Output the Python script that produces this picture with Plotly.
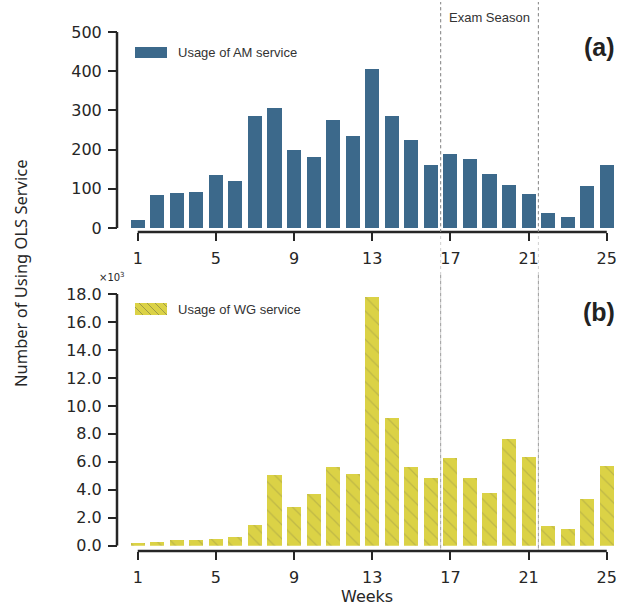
import plotly.graph_objects as go

weeks = list(range(1, 26))
am_usage = [20, 84, 89, 92, 135, 120, 286, 306, 199, 181, 276, 235, 406, 286, 225,
            161, 189, 176, 138, 110, 87, 38, 28, 107, 161]
wg_usage = [190, 270, 410, 410, 500, 620, 1480, 5070, 2780, 3710, 5640, 5140, 17770,
            9160, 5640, 4860, 6290, 4860, 3780, 7650, 6360, 1410, 1190, 3350, 5720]
x_ticks = [1, 5, 9, 13, 17, 21, 25]
am_ticks = [0, 100, 200, 300, 400, 500]
wg_ticks = [0, 2000, 4000, 6000, 8000, 10000, 12000, 14000, 16000, 18000]
wg_tick_text = ["0.0", "2.0", "4.0", "6.0", "8.0", "10.0", "12.0", "14.0", "16.0", "18.0"]
exam_season = [16.5, 21.5]

W, H = 617, 606
def px(x): return x / W
def py(y): return 1 - y / H

BLUE = "#3c698b"
YELLOW = "#dbd246"
TXT = "#262626"
TICKFONT = dict(family="DejaVu Sans", size=16, color=TXT)
LABFONT = "Liberation Sans, Arial, sans-serif"

fig = go.Figure()
fig.add_trace(go.Bar(x=weeks, y=am_usage, width=0.72, marker=dict(color=BLUE, line=dict(width=0)),
                     name="Usage of AM service", xaxis="x", yaxis="y", showlegend=False))
fig.add_trace(go.Bar(x=weeks, y=wg_usage, width=0.72,
                     marker=dict(color=YELLOW, line=dict(width=0),
                                 pattern=dict(shape="\\", fgcolor="rgba(110,110,70,0.55)", size=10, solidity=0.12)),
                     name="Usage of WG service", xaxis="x2", yaxis="y2", showlegend=False))

xr = [-0.06, 25.42]
xdom = [px(117), px(615)]
common_x = dict(range=xr, domain=xdom, tickvals=x_ticks, ticks="outside", ticklen=8, tickwidth=2,
                tickcolor=TXT, showline=False, showgrid=False, zeroline=False, tickfont=TICKFONT,
                anchor="free", ticklabelstandoff=4, automargin=False)
common_y = dict(ticks="outside", ticklen=9, tickwidth=2, tickcolor=TXT, showline=False, showgrid=False,
                zeroline=False, tickfont=TICKFONT, anchor="free", position=px(117), automargin=False,
                ticklabelstandoff=3)
fig.update_layout(
    width=W, height=H, margin=dict(l=0, r=0, t=0, b=0, autoexpand=False),
    paper_bgcolor="white", plot_bgcolor="white", bargap=0,
    xaxis=dict(**common_x, position=py(232)),
    xaxis2=dict(**common_x, position=py(551)),
    yaxis=dict(range=[0, 569], domain=[py(228), py(5)], tickvals=am_ticks, **common_y),
    yaxis2=dict(range=[0, 19363], domain=[py(545.7), py(275)], tickvals=wg_ticks, ticktext=wg_tick_text,
                **common_y),
    showlegend=False,
)

shapes = []
# trimmed spines
shapes.append(dict(type="line", xref="x", yref="paper", x0=1, x1=25, y0=py(232), y1=py(232),
                   line=dict(color=TXT, width=2.5)))
shapes.append(dict(type="line", xref="x2", yref="paper", x0=1, x1=25, y0=py(551), y1=py(551),
                   line=dict(color=TXT, width=2.5)))
shapes.append(dict(type="line", xref="paper", yref="y", x0=px(117), x1=px(117), y0=0, y1=500,
                   line=dict(color=TXT, width=2.5)))
shapes.append(dict(type="line", xref="paper", yref="y2", x0=px(117), x1=px(117), y0=0, y1=18000,
                   line=dict(color=TXT, width=2.5)))
# exam season dotted lines
for xv in exam_season:
    shapes.append(dict(type="line", xref="x", yref="paper", x0=xv, x1=xv, y0=py(551), y1=py(2),
                       line=dict(color="#d0d0d0", width=1, dash="dot"), layer="below"))
    shapes.append(dict(type="line", xref="x", yref="paper", x0=xv, x1=xv, y0=py(232), y1=py(2),
                       line=dict(color="#8a8a8a", width=1, dash="dot")))
    shapes.append(dict(type="line", xref="x2", yref="paper", x0=xv, x1=xv, y0=py(548), y1=py(275),
                       line=dict(color="#9a9a9a", width=1, dash="dot")))
# legend swatches
shapes.append(dict(type="rect", xref="paper", yref="paper", x0=px(135), x1=px(167), y0=py(58), y1=py(47),
                   fillcolor=BLUE, line=dict(width=0)))
sx0, sx1, sy0, sy1 = 135, 167, 303, 315
shapes.append(dict(type="rect", xref="paper", yref="paper", x0=px(sx0), x1=px(sx1), y0=py(sy1), y1=py(sy0),
                   fillcolor=YELLOW, line=dict(width=0)))
h = sy1 - sy0
for start in range(sx0 - h, sx1, 8):
    a0 = max(start, sx0)
    a1 = min(start + h, sx1)
    if a1 <= a0:
        continue
    y_a0 = sy0 + (a0 - start)
    y_a1 = sy0 + (a1 - start)
    shapes.append(dict(type="line", xref="paper", yref="paper", x0=px(a0), x1=px(a1), y0=py(y_a0), y1=py(y_a1),
                       line=dict(color="rgba(110,110,70,0.55)", width=1)))
fig.update_layout(shapes=shapes)

ann = []
ann.append(dict(text="Usage of AM service", x=px(176), y=py(52.5), xref="paper", yref="paper",
                xanchor="left", yanchor="middle", showarrow=False, font=dict(family=LABFONT, size=13, color="#333")))
ann.append(dict(text="Usage of WG service", x=px(176), y=py(309), xref="paper", yref="paper",
                xanchor="left", yanchor="middle", showarrow=False, font=dict(family=LABFONT, size=13, color="#333")))
ann.append(dict(text="Exam Season", x=px(489), y=py(17.5), xref="paper", yref="paper",
                xanchor="center", yanchor="middle", showarrow=False, font=dict(family=LABFONT, size=13, color="#333")))
ann.append(dict(text="<b>(a)</b>", x=px(599), y=py(47), xref="paper", yref="paper",
                xanchor="center", yanchor="middle", showarrow=False, font=dict(family=LABFONT, size=25, color="#222")))
ann.append(dict(text="<b>(b)</b>", x=px(599), y=py(312), xref="paper", yref="paper",
                xanchor="center", yanchor="middle", showarrow=False, font=dict(family=LABFONT, size=25, color="#222")))
ann.append(dict(text="×10<sup>3</sup>", x=px(112), y=py(277), xref="paper", yref="paper",
                xanchor="center", yanchor="middle", showarrow=False, font=dict(family="DejaVu Sans", size=10, color=TXT)))
ann.append(dict(text="Number of Using OLS Service", x=px(20), y=py(274), xref="paper", yref="paper",
                xanchor="center", yanchor="middle", textangle=-90, showarrow=False,
                font=dict(family="Noto Sans", size=16.5, color=TXT)))
ann.append(dict(text="Weeks", x=px(367), y=py(596.5), xref="paper", yref="paper",
                xanchor="center", yanchor="middle", showarrow=False,
                font=dict(family="DejaVu Sans", size=16, color=TXT)))
fig.update_layout(annotations=ann)

fig.write_html("out.html", config={"displayModeBar": False},
               post_script="document.body.style.margin='0px';")
